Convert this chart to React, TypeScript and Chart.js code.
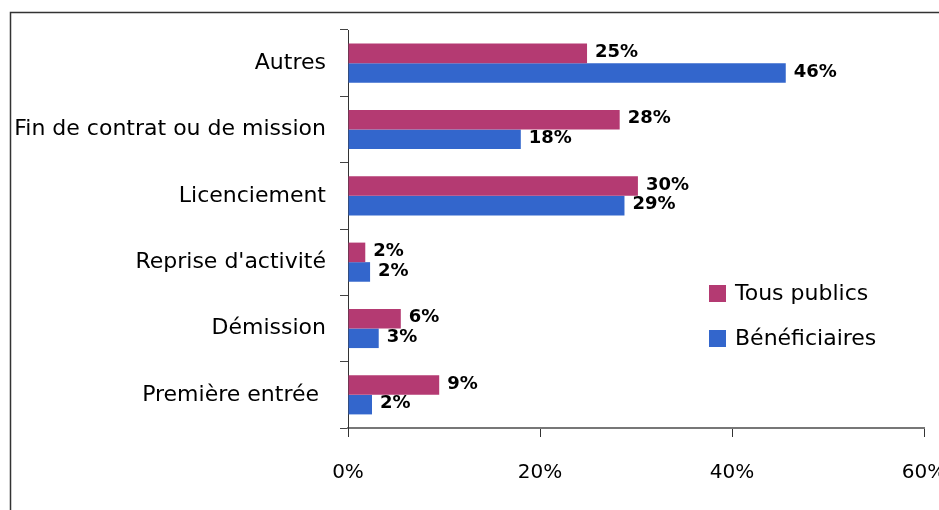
import React, { useEffect, useRef } from "react";
import { Chart, registerables } from "chart.js";

Chart.register(...registerables);

const categories = [
  "Autres",
  "Fin de contrat ou de mission",
  "Licenciement",
  "Reprise d'activité",
  "Démission",
  "Première entrée ",
];
const seriesNames = ["Tous publics", "Bénéficiaires"];
const tousPublics = [24.9, 28.3, 30.2, 1.8, 5.5, 9.5];
const beneficiaires = [45.6, 18.0, 28.8, 2.3, 3.2, 2.5];
const tousPublicsLabels = ["25%", "28%", "30%", "2%", "6%", "9%"];
const beneficiairesLabels = ["46%", "18%", "29%", "2%", "3%", "2%"];
const xTicks = [0, 20, 40, 60];

const COLORS = ["#B43A72", "#3366CC"];
const FONT = "'DejaVu Sans', sans-serif";

const framePlugin = {
  id: "frame",
  beforeDraw(chart: any) {
    const ctx = chart.ctx;
    ctx.save();
    ctx.fillStyle = "#fff";
    ctx.fillRect(0, 0, chart.width, chart.height);
    ctx.strokeStyle = "#333";
    ctx.lineWidth = 1.5;
    ctx.beginPath();
    ctx.moveTo(10.5, chart.height + 5);
    ctx.lineTo(10.5, 12.5);
    ctx.lineTo(chart.width + 5, 12.5);
    ctx.stroke();
    ctx.restore();
  },
};

const labelsPlugin = {
  id: "valueLabels",
  afterDatasetsDraw(chart: any) {
    const ctx = chart.ctx;
    const lbls = [tousPublicsLabels, beneficiairesLabels];
    ctx.save();
    ctx.font = `bold 18px ${FONT}`;
    ctx.fillStyle = "#000";
    ctx.textAlign = "left";
    ctx.textBaseline = "middle";
    chart.data.datasets.forEach((ds: any, di: number) => {
      const meta = chart.getDatasetMeta(di);
      meta.data.forEach((bar: any, i: number) => {
        ctx.fillText(lbls[di][i], bar.x + 8, bar.y - 1);
      });
    });
    // legend
    const ys = [294, 339];
    ctx.font = `22px ${FONT}`;
    ys.forEach((y, i) => {
      ctx.fillStyle = COLORS[i];
      ctx.fillRect(709, y - 9, 17, 17);
      ctx.fillStyle = "#000";
      ctx.fillText(seriesNames[i], 735, y);
    });
    ctx.restore();
  },
};

export default function App() {
  const ref = useRef<HTMLCanvasElement>(null);
  useEffect(() => {
    document.body.style.margin = "0";
    const chart = new Chart(ref.current!, {
      type: "bar",
      data: {
        labels: categories,
        datasets: [
          {
            label: seriesNames[0],
            data: tousPublics,
            backgroundColor: COLORS[0],
            categoryPercentage: 0.59,
            barPercentage: 1,
          },
          {
            label: seriesNames[1],
            data: beneficiaires,
            backgroundColor: COLORS[1],
            categoryPercentage: 0.59,
            barPercentage: 1,
          },
        ],
      },
      options: {
        indexAxis: "y",
        animation: false,
        responsive: false,
        devicePixelRatio: 1,
        layout: {
          autoPadding: false,
          padding: { left: 0, right: 15, top: 30, bottom: 0 },
        },
        plugins: {
          legend: { display: false },
          tooltip: { enabled: false },
        },
        scales: {
          x: {
            min: 0,
            max: 60,
            afterFit(scale: any) {
              scale.height = 82;
              scale.paddingLeft = 0;
              scale.paddingRight = 0;
            },
            afterBuildTicks(scale: any) {
              scale.ticks = xTicks.map((v) => ({ value: v }));
            },
            ticks: {
              callback: (v: any) => v + "%",
              font: { family: FONT, size: 20 },
              color: "#000",
              padding: 24,
              maxRotation: 0,
              autoSkip: false,
            },
            grid: {
              drawOnChartArea: false,
              drawTicks: true,
              tickLength: 9,
              color: "#333",
            },
            border: { display: true, color: "#777", width: 2 },
          },
          y: {
            afterFit(scale: any) {
              scale.width = 348;
              scale.paddingTop = 0;
              scale.paddingBottom = 0;
            },
            ticks: {
              font: { family: FONT, size: 22 },
              color: "#000",
              padding: 14,
              autoSkip: false,
            },
            grid: {
              offset: true,
              drawOnChartArea: false,
              drawTicks: true,
              tickLength: 8,
              color: "#444",
            },
            border: { display: true, color: "#333", width: 1 },
          },
        },
      },
      plugins: [framePlugin, labelsPlugin],
    });
    return () => chart.destroy();
  }, []);
  return (
    <div style={{ width: 939, height: 510 }}>
      <canvas ref={ref} width={939} height={510} style={{ display: "block" }} />
    </div>
  );
}
